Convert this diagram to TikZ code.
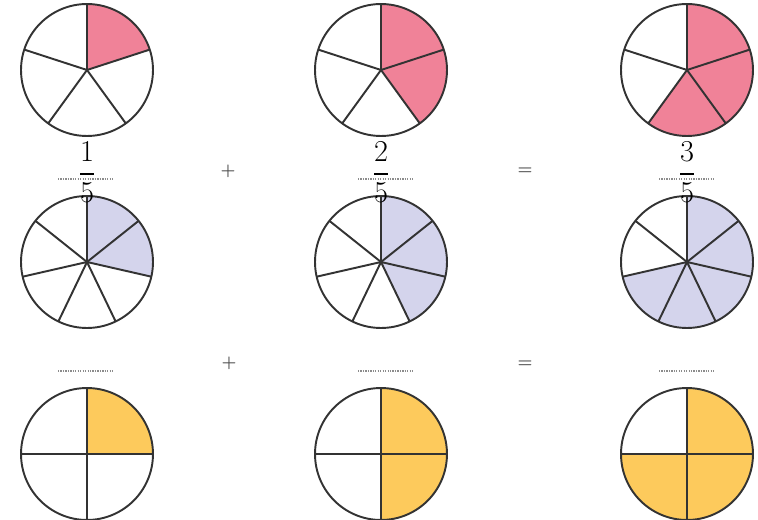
\documentclass[tikz,border=0pt]{standalone}
\usepackage{amsmath}
\definecolor{pinkfill}{RGB}{240,130,152}
\definecolor{lilacfill}{RGB}{212,212,236}
\definecolor{goldfill}{RGB}{253,202,92}

\begin{document}
\begin{tikzpicture}[
  x=0.02cm, y=-0.02cm,
  rim/.style={draw=black!80, line width=1.1pt},
  spoke/.style={draw=black!80, line width=1.1pt},
  fracnum/.style={font=\fontsize{17.6}{20}\selectfont, inner sep=0pt},
  blank/.style={draw=black!45, line width=0.7pt, dash pattern=on 0.7pt off 0.7pt},
  op/.style={text=black!70, font=\fontsize{9.5}{10}\selectfont\bfseries, inner sep=0pt}
]
\useasboundingbox (0,0) rectangle (758,520);

% Pies: name / x / y / parts / shaded / colour
\foreach \name/\x/\y/\n/\k/\col in {
    pieA/87/70/5/1/pinkfill, pieB/381/70/5/2/pinkfill, pieC/687/70/5/3/pinkfill,
    pieD/87/262/7/2/lilacfill, pieE/381/262/7/3/lilacfill, pieF/687/262/7/5/lilacfill,
    pieG/87/454/4/1/goldfill, pieH/381/454/4/2/goldfill, pieI/687/454/4/3/goldfill} {
  \coordinate (\name) at (\x,\y);
  \fill[\col] (\name) -- ++(90:1.32cm)
    arc[start angle=90, delta angle={-360*\k/\n}, radius=1.32cm] -- cycle;
  \foreach \i in {1,...,\n}
    \draw[spoke] (\name) -- ++({90-360*(\i-1)/\n}:1.32cm);
  \draw[rim] (\name) circle[radius=1.32cm];
}

% Fractions
\node[fracnum] (fracA) at (87,172) {$\dfrac{1}{5}$};
\node[fracnum] (fracB) at (381,172) {$\dfrac{2}{5}$};
\node[fracnum] (fracC) at (687,172) {$\dfrac{3}{5}$};

% Blanks
\foreach \x/\y in {86/179, 386/179, 687/179, 86/371, 386/371, 687/371}
  \draw[blank] (\x-28,\y) -- (\x+28,\y);

% Operators
\node[op] (plusA) at (228,171) {+};
\node[op] (plusB) at (229,363) {+};
\node[op] (eqA) at (525,171) {=};
\node[op] (eqB) at (525,364) {=};
\end{tikzpicture}
\end{document}
